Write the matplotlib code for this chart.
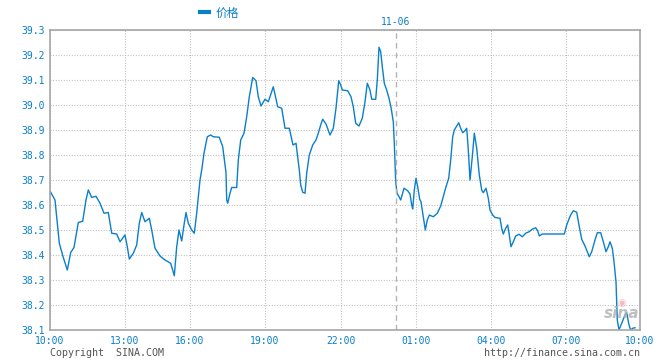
import matplotlib
matplotlib.use("Agg")
import matplotlib.pyplot as plt

# position along the time axis (chart units) and price
x_pos = [
    0, 5, 9.3, 13.3, 17.3, 20.7, 24, 28.3, 32.7, 36, 38.3, 41.7, 46, 50, 54, 58.3,
    61.7, 66.7, 70, 75, 77.3, 79.3, 83.3, 86.7, 89.3, 91.7, 95, 99.3, 101.7, 105,
    110, 115, 120.7, 122.7, 124.3, 126.7, 129, 131.7, 134, 136, 138.3, 141.7,
    144.3, 146.7, 150, 151.7, 154, 157.3, 160.7, 163.3, 169.3, 172.7, 176, 176.7,
    177.7, 180, 181.7, 186.7, 188.3, 190.7, 194, 196.7, 199.3, 202.7, 206, 208.3,
    211, 215, 218.3, 223.3, 227.7, 231.7, 235, 239.3, 243, 246, 249.3, 250.7,
    252.7, 255, 256.7, 259.3, 262.7, 266, 268.3, 270.7, 272.7, 276, 280, 283.3,
    286, 288.7, 290.7, 292.3, 297.7, 301, 303.3, 305.7, 309, 312.3, 315, 317.3,
    320, 321.7, 325.7, 327.3, 329, 330.7, 332.3, 334.3, 336.7, 339, 341, 343.3,
    344.3, 345.7, 347, 349, 350.7, 354, 357.7, 360, 361.7, 362.7, 364.3, 366,
    367.7, 369.7, 371, 373.3, 375.3, 377.3, 379.3, 383.3, 387.3, 390.7, 393.3,
    396, 398.7, 400.7, 402.7, 404.3, 406.7, 408.7, 410.7, 412.7, 415, 416.7,
    418.3, 420, 422.3, 424.3, 426.7, 429.3, 431.7, 433.3, 436, 438.3, 440, 442.7,
    445, 450, 451.7, 453.3, 455.7, 457.7, 459, 461, 463.3, 465.7, 469, 472.3,
    475.7, 479, 482.3, 485.7, 487.7, 489.3, 492.3, 514.3, 516.7, 519.7, 520.7,
    523.3, 526.7, 529.3, 531.7, 535, 537.3, 539.3, 541.7, 545, 547.3, 550.7,
    553.3, 556, 558.3, 560, 562.3, 564, 566, 567.3, 569, 571.7, 574.3, 576.7,
    579, 580.7, 582.7, 585,
]
price = [
    38.656, 38.62, 38.447, 38.39, 38.34, 38.41, 38.43, 38.53, 38.535, 38.62,
    38.66, 38.63, 38.635, 38.607, 38.567, 38.57, 38.487, 38.484, 38.453, 38.48,
    38.433, 38.384, 38.407, 38.44, 38.527, 38.57, 38.533, 38.547, 38.5, 38.427,
    38.396, 38.38, 38.367, 38.34, 38.317, 38.433, 38.5, 38.456, 38.52, 38.57,
    38.527, 38.5, 38.487, 38.567, 38.7, 38.74, 38.807, 38.873, 38.88, 38.873,
    38.871, 38.833, 38.73, 38.62, 38.607, 38.647, 38.67, 38.67, 38.78, 38.86,
    38.887, 38.953, 39.033, 39.11, 39.097, 39.033, 38.996, 39.023, 39.013,
    39.073, 38.993, 38.987, 38.907, 38.907, 38.84, 38.847, 38.74, 38.68, 38.651,
    38.647, 38.727, 38.8, 38.84, 38.86, 38.887, 38.92, 38.943, 38.924, 38.88,
    38.907, 38.987, 39.097, 39.08, 39.06, 39.057, 39.033, 38.993, 38.927,
    38.916, 38.947, 39.013, 39.087, 39.06, 39.023, 39.023, 39.1, 39.231,
    39.213, 39.153, 39.087, 39.06, 39.027, 38.991, 38.933, 38.847, 38.693,
    38.647, 38.633, 38.62, 38.667, 38.657, 38.644, 38.6, 38.584, 38.66, 38.707,
    38.673, 38.623, 38.613, 38.553, 38.5, 38.54, 38.56, 38.553, 38.567, 38.596,
    38.633, 38.673, 38.707, 38.78, 38.873, 38.9, 38.916, 38.929, 38.907,
    38.889, 38.897, 38.907, 38.82, 38.7, 38.793, 38.887, 38.827, 38.72, 38.66,
    38.649, 38.667, 38.627, 38.58, 38.56, 38.55, 38.547, 38.507, 38.484,
    38.507, 38.52, 38.487, 38.433, 38.453, 38.476, 38.483, 38.473, 38.487,
    38.493, 38.503, 38.509, 38.497, 38.476, 38.484, 38.484, 38.52, 38.551,
    38.56, 38.577, 38.571, 38.513, 38.463, 38.436, 38.413, 38.393, 38.413,
    38.46, 38.489, 38.489, 38.453, 38.413, 38.433, 38.453, 38.427, 38.373,
    38.293, 38.14, 38.1, 38.127, 38.153, 38.169, 38.12, 38.1, 38.107, 38.109,
]

tick_pos = [0, 75, 140, 215, 290.7, 365.7, 440.7, 515.7, 590]
tick_labels = ["10:00", "13:00", "16:00", "19:00", "22:00", "01:00", "04:00", "07:00", "10:00"]
y_ticks = [38.1, 38.2, 38.3, 38.4, 38.5, 38.6, 38.7, 38.8, 38.9, 39.0, 39.1, 39.2, 39.3]
day_break = 345.7
day_label = "11-06"

BLUE = "#0a7fcc"
GRAY = "#a6a6a6"
MONO = "DejaVu Sans Mono"

fig = plt.figure(figsize=(6.6, 3.6), dpi=100)
ax = fig.add_axes([50 / 660, 30 / 360, 590 / 660, 300 / 360])

ax.plot(x_pos, price, color=BLUE, lw=1.0, label="价格")
ax.axvline(day_break, color="#b4b4b4", lw=1.0, linestyle=(0, (4, 3)))
ax.text(day_break, 1.027, day_label, transform=ax.get_xaxis_transform(),
        ha="center", va="center", color=BLUE, family=MONO, fontsize=7)

ax.set_xlim(0, 590)
ax.set_ylim(38.1, 39.3)
ax.set_xticks(tick_pos)
ax.set_xticklabels(tick_labels)
ax.set_yticks(y_ticks)
ax.set_yticklabels([f"{v:.1f}" for v in y_ticks])
ax.tick_params(length=0, colors=BLUE, labelsize=7)
ax.tick_params(axis="y", pad=4)
ax.tick_params(axis="x", pad=4)
for lab in ax.get_xticklabels() + ax.get_yticklabels():
    lab.set_family(MONO)

ax.grid(True, color="#b4b4b4", lw=0.8, linestyle=(0, (0.8, 1.6)))
for sp in ax.spines.values():
    sp.set_color(GRAY)
    sp.set_linewidth(1.2)

leg = ax.legend(loc="center left", bbox_to_anchor=(200 / 660, 347 / 360),
                bbox_transform=fig.transFigure, frameon=False, handlelength=0.75,
                handletextpad=0.55, borderpad=0, borderaxespad=0,
                prop={"family": ["Noto Sans CJK SC", "DejaVu Sans"], "size": 8.5})
for t in leg.get_texts():
    t.set_color(BLUE)
for h in leg.legend_handles:
    h.set_linewidth(3)

fig.text(50 / 660, 1 - 353 / 360, "Copyright  SINA.COM", color="#555555",
         family=MONO, fontsize=7.2, va="center", ha="left")
fig.text(640 / 660, 1 - 353 / 360, "http://finance.sina.com.cn", color="#555555",
         family=MONO, fontsize=7.2, va="center", ha="right")
fig.text(622 / 660, 1 - 314 / 360, "sina", color="#b0b0b0", fontsize=11,
         style="italic", weight="bold", ha="center", va="center", alpha=0.8)
fig.text(622 / 660, 1 - 303 / 360, "◉", color="#f0a0a0", fontsize=7,
         ha="center", va="center", alpha=0.7)

fig.savefig("out.png", dpi=100)
